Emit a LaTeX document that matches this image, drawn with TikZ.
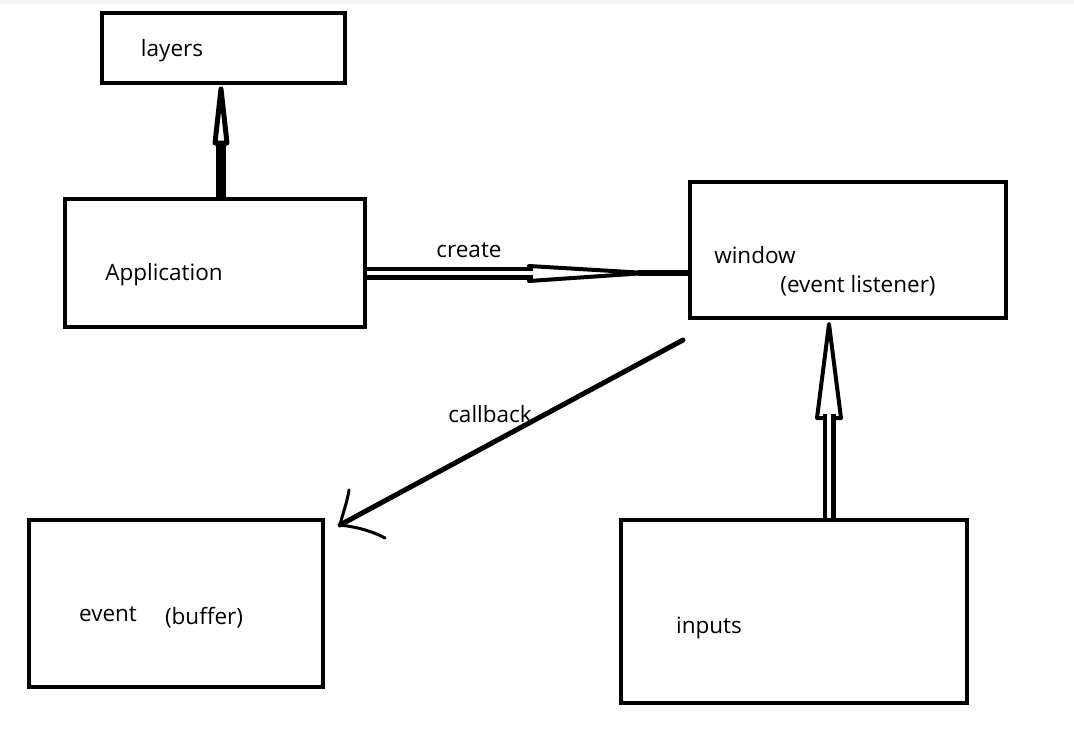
\documentclass[tikz,border=0pt]{standalone}
\usepackage{fontspec}
\setmainfont{Open Sans}
\usetikzlibrary{calc}
\begin{document}
\begin{tikzpicture}[x=1pt,y=-1pt,
  box/.style={draw=black, line width=4pt, rectangle, inner sep=0pt},
  lbl/.style={font=\fontsize{22.5}{27}\selectfont, inner sep=0pt, text=black},
  head/.style={draw=black, line width=4pt, fill=white, line join=round},
  dshaft/.style={draw=black, line width=4.5pt, double=white, double distance=4pt},
  hand/.style={draw=black, line width=3pt, line cap=round, line join=round}]
\useasboundingbox (0,0) rectangle (1074,736);
\fill[black!4] (0,0) rectangle (1074,4);
% boxes
\node[box, minimum width=243pt, minimum height=70pt] (layers) at (223.5,48) {};
\node[box, minimum width=300pt, minimum height=128pt] (app) at (215,263) {};
\node[box, minimum width=316pt, minimum height=136pt] (window) at (848,250) {};
\node[box, minimum width=294pt, minimum height=167pt] (event) at (176,603.5) {};
\node[box, minimum width=346pt, minimum height=183pt] (inputs) at (794,611.5) {};
% texts
\node[lbl] (tlayers) at (172,51) {layers};
\node[lbl] (tapp) at (164,275) {Application};
\node[lbl] (twin) at (755,255) {window};
\node[lbl] (tlisten) at (858,286) {(event listener)};
\node[lbl] (tevent) at (108,614) {event};
\node[lbl] (tbuf) at (204,618) {(buffer)};
\node[lbl] (tinputs) at (709,628) {inputs};
\node[lbl] (tcreate) at (469,250) {create};
\node[lbl] (tcb) at (490,414) {callback};
% Application -> layers
\coordinate (ab) at ($(app.north)+(6,0)$);
\coordinate (lt) at ($(layers.south)+(-2.5,4)$);
\draw[line width=10pt] (ab) -- ($(ab)!0.5!(lt)$);
\draw[head, line width=5pt] (lt) -- ($(ab)!0.5!(lt)+(-6,0)$) -- ($(ab)!0.5!(lt)+(6,0)$) -- cycle;
% Application -> window (create)
\coordinate (cs) at ($(app.east)+(0,10)$);
\coordinate (ce) at ($(window.west)+(0,23)$);
\draw[line width=6pt] ($(ce)+(-50,0)$) -- (ce);
\draw[head] ($(cs)+(162,-7)$) -- ($(ce)+(-42,0)$) -- ($(cs)+(162,8)$) -- cycle;
\draw[dshaft] (cs) -- ($(cs)+(166,0)$);
% window -> event (callback)
\coordinate (wb) at ($(window.south west)+(-5,20)$);
\coordinate (et) at ($(event.north east)+(15,7)$);
\draw[line width=5pt, line cap=round] (wb) -- (et);
\draw[hand] ($(et)+(9,-35)$) .. controls ($(et)+(7,-22)$) and ($(et)+(2,-9)$) .. (et)
  .. controls ($(et)+(17,2)$) and ($(et)+(32,6)$) .. ($(et)+(45,13)$);
% inputs -> window
\coordinate (ib) at ($(inputs.north)+(35,0)$);
\coordinate (wt) at ($(window.south)+(-19,4)$);
\draw[head] (wt) -- ($(ib)+(-12,-100)$) -- ($(ib)+(12,-100)$) -- cycle;
\draw[dshaft] (ib) -- ($(ib)+(0,-104)$);
\end{tikzpicture}
\end{document}
